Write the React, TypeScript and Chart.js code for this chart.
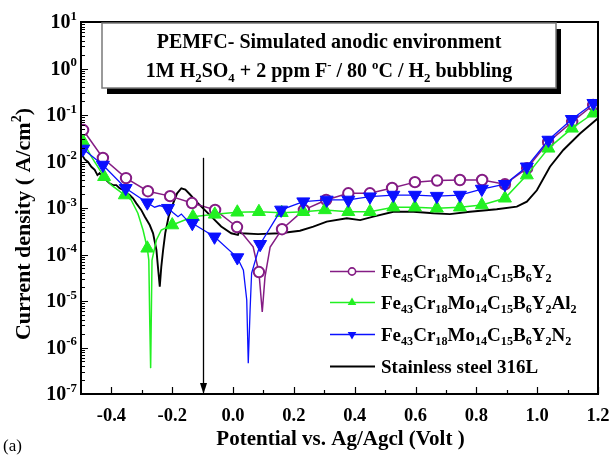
import React, { useEffect, useRef } from "react";
import { Chart, registerables } from "chart.js";

Chart.register(...registerables);

// ---------- axis definitions ----------
const X_MIN = -0.5;
const X_MAX = 1.2;
const Y_MIN = 1e-7;
const Y_MAX = 10;
const xTickValues = [-0.4, -0.2, 0.0, 0.2, 0.4, 0.6, 0.8, 1.0, 1.2];
const xTickLabels = ["-0.4", "-0.2", "0.0", "0.2", "0.4", "0.6", "0.8", "1.0", "1.2"];
const xMinorValues = [-0.3, -0.1, 0.1, 0.3, 0.5, 0.7, 0.9, 1.1];
const yExponents = [1, 0, -1, -2, -3, -4, -5, -6, -7];

// ---------- texts ----------
const titleLine1 = "PEMFC- Simulated anodic environment";
const titleLine2 = "1M H_{2}SO_{4} + 2 ppm F^{-} / 80 ^{o}C / H_{2} bubbling";
const xAxisTitle = "Potential vs. Ag/Agcl (Volt )";
const yAxisTitle = "Current density ( A/cm^{2})";
const panelLabel = "(a)";
const legendLabels = [
  "Fe_{45}Cr_{18}Mo_{14}C_{15}B_{6}Y_{2}",
  "Fe_{43}Cr_{18}Mo_{14}C_{15}B_{6}Y_{2}Al_{2}",
  "Fe_{43}Cr_{18}Mo_{14}C_{15}B_{6}Y_{2}N_{2}",
  "Stainless steel 316L",
];

// arrow marking a potential, drawn from a current level down to the axis
const arrowPotential = -0.1;
const arrowTopCurrent = 0.012;

// ---------- series: Fe45Cr18Mo14C15B6Y2 (purple, open circles) ----------
const purpleV = [-0.5, -0.493, -0.428, -0.352, -0.28, -0.207, -0.135, -0.059, 0.013, 0.066, 0.085, 0.096, 0.105, 0.122, 0.161, 0.233, 0.306, 0.379, 0.45, 0.523, 0.598, 0.671, 0.746, 0.819, 0.894, 0.967, 1.036, 1.115, 1.184, 1.2];
const purpleI = [0.055, 0.0475, 0.0119, 0.0044, 0.0023, 0.0018, 0.00128, 0.00091, 0.00039, 0.000147, 0.000042, 0.0000058, 0.000033, 0.000145, 0.00035, 0.00091, 0.00149, 0.00207, 0.00207, 0.0027, 0.0036, 0.0039, 0.004, 0.004, 0.00324, 0.0072, 0.026, 0.071, 0.164, 0.19];
const purpleMarks = [1, 2, 3, 4, 5, 6, 7, 8, 10, 14, 15, 16, 17, 18, 19, 20, 21, 22, 23, 24, 25, 26, 27, 28];

// ---------- series: Fe43Cr18Mo14C15B6Y2Al2 (green, up triangles) ----------
const greenV = [-0.5, -0.493, -0.466, -0.424, -0.4, -0.356, -0.335, -0.313, -0.296, -0.282, -0.277, -0.274, -0.271, -0.2665, -0.252, -0.236, -0.2, -0.132, -0.06, 0.014, 0.085, 0.16, 0.231, 0.302, 0.379, 0.45, 0.527, 0.598, 0.67, 0.746, 0.818, 0.894, 0.966, 1.037, 1.114, 1.185, 1.2];
const greenI = [0.03, 0.0267, 0.0127, 0.0047, 0.0031, 0.0019, 0.00149, 0.00077, 0.000336, 0.000136, 0.000076, 0.0000039, 0.00000036, 0.000076, 0.000205, 0.000336, 0.00043, 0.00065, 0.00073, 0.00081, 0.00083, 0.00079, 0.00083, 0.00091, 0.00083, 0.00083, 0.00104, 0.00104, 0.00099, 0.00104, 0.00116, 0.00162, 0.0051, 0.0192, 0.0517, 0.109, 0.125];
const greenMarks = [1, 3, 5, 9, 16, 17, 18, 19, 20, 21, 22, 23, 24, 25, 26, 27, 28, 29, 30, 31, 32, 33, 34, 35];

// ---------- series: Fe43Cr18Mo14C15B6Y2N2 (blue, down triangles) ----------
const blueV = [-0.5, -0.493, -0.428, -0.353, -0.282, -0.258, -0.241, -0.214, -0.197, -0.181, -0.17, -0.154, -0.134, -0.061, 0.014, 0.034, 0.045, 0.05, 0.056, 0.061, 0.089, 0.158, 0.231, 0.308, 0.379, 0.45, 0.527, 0.598, 0.67, 0.746, 0.818, 0.894, 0.966, 1.037, 1.114, 1.185, 1.2];
const blueI = [0.0177, 0.0186, 0.0084, 0.00265, 0.0013, 0.00104, 0.00113, 0.00099, 0.00079, 0.00065, 0.00074, 0.00057, 0.00047, 0.00024, 0.000086, 0.000046, 0.0000105, 0.00000046, 0.0000064, 0.00004, 0.000166, 0.00091, 0.00137, 0.00149, 0.00149, 0.00175, 0.0019, 0.0019, 0.0018, 0.0019, 0.00256, 0.00324, 0.0077, 0.029, 0.081, 0.179, 0.2];
const blueMarks = [1, 2, 3, 4, 7, 12, 13, 14, 20, 21, 22, 23, 24, 25, 26, 27, 28, 29, 30, 31, 32, 33, 34, 35];

// ---------- series: Stainless steel 316L (black line) ----------
const steelV = [-0.5, -0.488, -0.477, -0.466, -0.455, -0.446, -0.439, -0.428, -0.417, -0.406, -0.395, -0.384, -0.373, -0.362, -0.351, -0.34, -0.329, -0.318, -0.302, -0.29, -0.274, -0.263, -0.252, -0.247, -0.241, -0.236, -0.23, -0.223, -0.212, -0.197, -0.184, -0.17, -0.157, -0.143, -0.115, -0.077, -0.039, -0.006, 0.016, 0.02, 0.027, 0.082, 0.154, 0.22, 0.264, 0.308, 0.374, 0.418, 0.461, 0.527, 0.593, 0.659, 0.713, 0.779, 0.867, 0.933, 0.966, 0.999, 1.042, 1.086, 1.141, 1.2];
const steelI = [0.015, 0.0112, 0.0098, 0.0077, 0.0066, 0.0051, 0.0056, 0.0044, 0.004, 0.0034, 0.0031, 0.0031, 0.00266, 0.00244, 0.00215, 0.0019, 0.00162, 0.00126, 0.00091, 0.00065, 0.00043, 0.000286, 0.000125, 0.000054, 0.0000203, 0.000054, 0.000125, 0.000286, 0.00065, 0.00126, 0.00207, 0.00266, 0.0025, 0.002, 0.00126, 0.00071, 0.0004, 0.000286, 0.000263, 0.00031, 0.000286, 0.000274, 0.000286, 0.000325, 0.000396, 0.00051, 0.0006, 0.00055, 0.00065, 0.00083, 0.00083, 0.00077, 0.00074, 0.00083, 0.00094, 0.00107, 0.00137, 0.0024, 0.0077, 0.0177, 0.04, 0.085];

// ---------- styling ----------
const PURPLE = "#841c84";
const GREEN = "#22f022";
const BLUE = "#0a10ff";
const BLACK = "#000000";
const FAMILY = '"Liberation Serif", "Times New Roman", Times, serif';

type Seg = { t: string; k: "" | "sub" | "sup" };

function parseRich(s: string): Seg[] {
  const out: Seg[] = [];
  let i = 0;
  let buf = "";
  while (i < s.length) {
    const c = s[i];
    if ((c === "_" || c === "^") && s[i + 1] === "{") {
      if (buf) out.push({ t: buf, k: "" });
      buf = "";
      const end = s.indexOf("}", i);
      out.push({ t: s.slice(i + 2, end), k: c === "_" ? "sub" : "sup" });
      i = end + 1;
    } else {
      buf += c;
      i++;
    }
  }
  if (buf) out.push({ t: buf, k: "" });
  return out;
}

function fnt(size: number, bold: boolean) {
  return `${bold ? "bold " : ""}${size}px ${FAMILY}`;
}

function richWidth(ctx: CanvasRenderingContext2D, segs: Seg[], size: number, bold: boolean) {
  let w = 0;
  for (const s of segs) {
    ctx.font = fnt(s.k ? size * 0.64 : size, bold);
    w += ctx.measureText(s.t).width;
  }
  return w;
}

function drawRich(
  ctx: CanvasRenderingContext2D,
  text: string,
  x: number,
  y: number,
  size: number,
  bold: boolean,
  align: "left" | "center" | "right",
  color = "#000"
) {
  const segs = parseRich(text);
  const w = richWidth(ctx, segs, size, bold);
  let cx = align === "center" ? x - w / 2 : align === "right" ? x - w : x;
  ctx.textAlign = "left";
  ctx.textBaseline = "alphabetic";
  ctx.fillStyle = color;
  for (const s of segs) {
    const sz = s.k ? size * 0.64 : size;
    ctx.font = fnt(sz, bold);
    const dy = s.k === "sub" ? size * 0.24 : s.k === "sup" ? -size * 0.42 : 0;
    ctx.fillText(s.t, cx, y + dy);
    cx += ctx.measureText(s.t).width;
  }
}

function triangle(ctx: CanvasRenderingContext2D, x: number, y: number, r: number, down: boolean) {
  const s = down ? -1 : 1;
  ctx.beginPath();
  ctx.moveTo(x, y - s * r);
  ctx.lineTo(x - r * 0.866, y + s * r * 0.5);
  ctx.lineTo(x + r * 0.866, y + s * r * 0.5);
  ctx.closePath();
  ctx.fill();
}

const decorPlugin = {
  id: "decor",
  afterDraw(chart: any) {
    const { ctx, chartArea: a, scales } = chart;
    const xs = scales.x;
    const ys = scales.y;
    ctx.save();

    // frame
    ctx.strokeStyle = "#000";
    ctx.lineWidth = 2;
    ctx.strokeRect(a.left, a.top, a.right - a.left, a.bottom - a.top);

    // x ticks (inward)
    ctx.lineWidth = 1.2;
    ctx.beginPath();
    for (const v of xTickValues) {
      const px = Math.round(xs.getPixelForValue(v)) + 0.5;
      ctx.moveTo(px, a.bottom);
      ctx.lineTo(px, a.bottom - 7);
    }
    for (const v of xMinorValues) {
      const px = Math.round(xs.getPixelForValue(v)) + 0.5;
      ctx.moveTo(px, a.bottom);
      ctx.lineTo(px, a.bottom - 4);
    }
    ctx.stroke();

    // y ticks (inward, log)
    ctx.beginPath();
    for (const e of yExponents) {
      const py = Math.round(ys.getPixelForValue(Math.pow(10, e))) + 0.5;
      ctx.moveTo(a.left, py);
      ctx.lineTo(a.left + 7, py);
      if (e < 1) {
        for (let m = 2; m <= 9; m++) {
          const pm = Math.round(ys.getPixelForValue(m * Math.pow(10, e))) + 0.5;
          ctx.moveTo(a.left, pm);
          ctx.lineTo(a.left + 4, pm);
        }
      }
    }
    ctx.stroke();

    // tick labels
    xTickValues.forEach((v, i) => {
      const px = xs.getPixelForValue(v);
      drawRich(ctx, xTickLabels[i], px, a.bottom + 27, 18.5, true, "center");
    });
    for (const e of yExponents) {
      const py = ys.getPixelForValue(Math.pow(10, e));
      drawRich(ctx, `10^{${e}}`, a.left - 4, py + 6, 20, true, "right");
    }

    // axis titles
    drawRich(ctx, xAxisTitle, (a.left + a.right) / 2 + 1, a.bottom + 51, 21, true, "center");
    ctx.save();
    ctx.translate(30, (a.top + a.bottom) / 2 + 16);
    ctx.rotate(-Math.PI / 2);
    drawRich(ctx, yAxisTitle, 0, 0, 22, true, "center");
    ctx.restore();

    ctx.font = fnt(17, false);
    ctx.fillStyle = "#000";
    ctx.textAlign = "left";
    ctx.fillText(panelLabel, 3, 451);

    // arrow
    const ax = Math.round(xs.getPixelForValue(arrowPotential)) + 0.5;
    const ayTop = ys.getPixelForValue(arrowTopCurrent);
    ctx.strokeStyle = "#000";
    ctx.lineWidth = 1.3;
    ctx.beginPath();
    ctx.moveTo(ax, ayTop);
    ctx.lineTo(ax, a.bottom - 8);
    ctx.stroke();
    ctx.fillStyle = "#000";
    ctx.beginPath();
    ctx.moveTo(ax, a.bottom);
    ctx.lineTo(ax - 3.5, a.bottom - 11);
    ctx.lineTo(ax + 3.5, a.bottom - 11);
    ctx.closePath();
    ctx.fill();

    // title box with shadow
    const bx = 102, by = 23, bw = 454, bh = 65;
    ctx.fillStyle = "#000";
    ctx.fillRect(bx + 5, by + 6, bw, bh);
    ctx.fillStyle = "#fff";
    ctx.fillRect(bx, by, bw, bh);
    ctx.strokeStyle = "#7a7a7a";
    ctx.lineWidth = 1.5;
    ctx.strokeRect(bx, by, bw, bh);
    drawRich(ctx, titleLine1, bx + bw / 2, by + 25, 20, true, "center");
    drawRich(ctx, titleLine2, bx + bw / 2, by + 54, 20, true, "center");

    // legend
    const rows = [271.5, 302.5, 334.5, 366.5];
    const colors = [PURPLE, GREEN, BLUE, BLACK];
    rows.forEach((ry, i) => {
      ctx.strokeStyle = colors[i];
      ctx.lineWidth = i === 3 ? 1.8 : 1.6;
      ctx.beginPath();
      ctx.moveTo(330, ry);
      ctx.lineTo(375, ry);
      ctx.stroke();
      ctx.fillStyle = colors[i];
      if (i === 0) {
        ctx.beginPath();
        ctx.arc(352, ry, 3.6, 0, Math.PI * 2);
        ctx.fillStyle = "#fff";
        ctx.fill();
        ctx.lineWidth = 1.6;
        ctx.stroke();
      } else if (i === 1) {
        triangle(ctx, 352, ry, 5, false);
      } else if (i === 2) {
        triangle(ctx, 352, ry, 5, true);
      }
      drawRich(ctx, legendLabels[i], 381, ry + 6, 19, true, "left");
    });

    ctx.restore();
  },
};

function pts(v: number[], c: number[]) {
  return v.map((x, i) => ({ x, y: c[i] }));
}

function markRadius(marks: number[], r: number) {
  return (c: any) => (marks.includes(c.dataIndex) ? r : 0);
}

export default function App() {
  const ref = useRef<HTMLCanvasElement | null>(null);

  useEffect(() => {
    if (!ref.current) return;
    const chart = new Chart(ref.current, {
      type: "line",
      data: {
        datasets: [
          {
            label: "Fe43Cr18Mo14C15B6Y2N2",
            data: pts(blueV, blueI),
            borderColor: BLUE,
            backgroundColor: BLUE,
            borderWidth: 1.3,
            pointStyle: "triangle",
            rotation: 180,
            pointRadius: markRadius(blueMarks, 7.5),
            pointBorderWidth: 1,
            pointBorderColor: BLUE,
            pointBackgroundColor: BLUE,
            order: 1,
          },
          {
            label: "Fe43Cr18Mo14C15B6Y2Al2",
            data: pts(greenV, greenI),
            borderColor: GREEN,
            backgroundColor: GREEN,
            borderWidth: 1.5,
            pointStyle: "triangle",
            pointRadius: markRadius(greenMarks, 7.5),
            pointBorderWidth: 1,
            pointBorderColor: GREEN,
            pointBackgroundColor: GREEN,
            order: 2,
          },
          {
            label: "Fe45Cr18Mo14C15B6Y2",
            data: pts(purpleV, purpleI),
            borderColor: PURPLE,
            backgroundColor: "#ffffff",
            borderWidth: 1.5,
            pointStyle: "circle",
            pointRadius: markRadius(purpleMarks, 5.2),
            pointBorderWidth: 2,
            pointBorderColor: PURPLE,
            pointBackgroundColor: "#ffffff",
            order: 3,
          },
          {
            label: "Stainless steel 316L",
            data: pts(steelV, steelI),
            borderColor: BLACK,
            borderWidth: 1.9,
            pointRadius: 0,
            order: 4,
          },
        ],
      },
      options: {
        animation: false,
        responsive: false,
        devicePixelRatio: 1,
        events: [],
        layout: { padding: { left: 81, right: 14, top: 22, bottom: 67 } },
        plugins: { legend: { display: false }, tooltip: { enabled: false } },
        elements: { line: { tension: 0 } },
        scales: {
          x: { type: "linear", min: X_MIN, max: X_MAX, display: false },
          y: { type: "logarithmic", min: Y_MIN, max: Y_MAX, display: false },
        },
      },
      plugins: [decorPlugin],
    });
    return () => chart.destroy();
  }, []);

  return (
    <div style={{ position: "absolute", left: 0, top: 0, width: 612, height: 461, background: "#fff" }}>
      <canvas ref={ref} width={612} height={461} style={{ width: 612, height: 461 }} />
    </div>
  );
}
